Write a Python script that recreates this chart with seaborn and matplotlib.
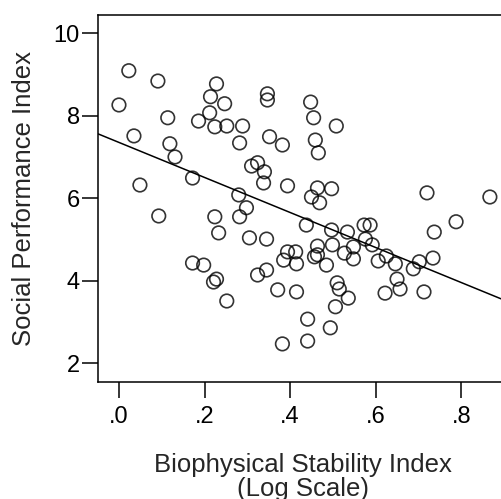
import matplotlib
matplotlib.use("Agg")
import matplotlib.pyplot as plt
import seaborn as sns
import pandas as pd
from matplotlib.ticker import FuncFormatter

# Biophysical Stability Index (log scale) and Social Performance Index
stability = [
    0.000, 0.023, 0.091, 0.035, 0.114, 0.119, 0.131, 0.172, 0.049, 0.093,
    0.172, 0.198, 0.228, 0.221, 0.252, 0.228, 0.214, 0.247, 0.212, 0.186,
    0.224, 0.252, 0.289, 0.282, 0.280, 0.224, 0.233, 0.282, 0.298,
    0.347, 0.347, 0.448, 0.455, 0.508, 0.352, 0.382, 0.459, 0.466, 0.310,
    0.324, 0.340, 0.338, 0.394, 0.464, 0.497, 0.450, 0.469, 0.438, 0.497,
    0.534, 0.573, 0.587, 0.576, 0.592, 0.305, 0.345, 0.394, 0.413, 0.385,
    0.415, 0.464, 0.499, 0.457, 0.464, 0.485, 0.527, 0.548, 0.548, 0.324,
    0.345, 0.371, 0.415, 0.441, 0.382, 0.441, 0.494, 0.506, 0.510, 0.515,
    0.536,
    0.720, 0.867, 0.788, 0.737, 0.734, 0.702, 0.688, 0.625, 0.606, 0.646,
    0.650, 0.657, 0.622, 0.713,
]
social = [
    8.26, 9.09, 8.84, 7.51, 7.95, 7.32, 7.00, 6.49, 6.32, 5.57,
    4.43, 4.38, 4.04, 3.97, 3.51, 8.77, 8.46, 8.29, 8.07, 7.87,
    7.73, 7.75, 7.75, 7.34, 6.08, 5.55, 5.16, 5.55, 5.77,
    8.53, 8.38, 8.33, 7.95, 7.75, 7.49, 7.29, 7.41, 7.10, 6.78,
    6.86, 6.64, 6.37, 6.30, 6.25, 6.23, 6.03, 5.89, 5.35, 5.23,
    5.18, 5.35, 5.35, 5.01, 4.87, 5.04, 5.01, 4.70, 4.70, 4.50,
    4.41, 4.84, 4.87, 4.58, 4.63, 4.38, 4.67, 4.82, 4.53, 4.14,
    4.26, 3.78, 3.73, 3.07, 2.47, 2.54, 2.86, 3.37, 3.95, 3.80,
    3.58,
    6.13, 6.03, 5.43, 5.18, 4.55, 4.46, 4.29, 4.60, 4.48, 4.41,
    4.04, 3.80, 3.70, 3.73,
]
x_ticks = [0.0, 0.2, 0.4, 0.6, 0.8]
y_ticks = [2, 4, 6, 8, 10]

df = pd.DataFrame({"stability": stability, "social": social})

sns.set_style("white")
plt.rcParams["font.family"] = ["Liberation Sans", "DejaVu Sans"]

fig = plt.figure(figsize=(5.01, 4.99), dpi=100)
ax = fig.add_axes([98 / 501, 117 / 499, (501 - 98) / 501, 367 / 499])

xlim = (-0.049, 0.893)
ylim = (1.547, 10.44)
ax.set_xlim(*xlim)
ax.set_ylim(*ylim)

sns.regplot(
    data=df, x="stability", y="social", ax=ax, ci=None, truncate=False,
    scatter_kws=dict(s=95, facecolors="none", edgecolors="black", linewidths=1.2),
    line_kws=dict(color="black", lw=1.1),
)
ax.set_xlim(*xlim)
ax.set_ylim(*ylim)

for side in ["left", "bottom", "top"]:
    ax.spines[side].set_visible(True)
    ax.spines[side].set_color("black")
    ax.spines[side].set_linewidth(1.1)
ax.spines["right"].set_visible(False)

ax.set_xticks(x_ticks)
ax.set_yticks(y_ticks)
ax.xaxis.set_major_formatter(FuncFormatter(lambda v, p: ("%.1f" % v).lstrip("0")))
ax.tick_params(axis="both", which="major", direction="out", length=11.5, width=1.1,
               color="black", labelsize=17, labelcolor="black")
ax.tick_params(axis="x", pad=6, bottom=True, top=False)
ax.tick_params(axis="y", pad=1.5, left=True, right=False)

ax.set_xlabel("Biophysical Stability Index\n(Log Scale)", fontsize=18.5, linespacing=0.98)
ax.set_ylabel("Social Performance Index", fontsize=18.5)
ax.xaxis.set_label_coords((303 - 98) / 403, -(453 - 382) / 367, transform=ax.transAxes)
ax.xaxis.label.set_va("top")
ax.yaxis.set_label_coords(-(98 - 24) / 403, 0.5, transform=ax.transAxes)
ax.yaxis.label.set_va("center")
ax.grid(False)

fig.savefig("out.png", dpi=100)
